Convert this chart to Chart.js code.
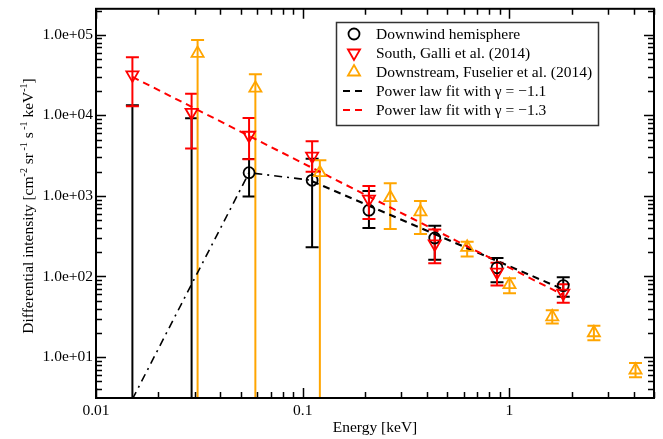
<!DOCTYPE html>
<html lang="en">
<head>
  <meta charset="UTF-8">
  <title>Differential intensity vs energy</title>
  <script src="https://cdn.jsdelivr.net/npm/chart.js@4.4.1/dist/chart.umd.min.js"></script>
  <style>
    body { margin: 0; background: #fff; }
    canvas { display: block; }
  </style>
</head>
<body>
  <canvas id="spectrum" width="663" height="439"></canvas>
  <script>
    // DATA
    // Downwind hemisphere (black circles) - first two points sit below the axis
    const downEnergy = [0.015, 0.029, 0.055, 0.111, 0.209, 0.435, 0.87, 1.82];
    const downValue  = [1, 1, 1940, 1560, 665, 300, 128, 77];
    const downLow    = [1, 1, 980, 230, 400, 161, 85, 56];
    const downHigh   = [13300, 9200, 2860, 2900, 1150, 427, 170, 98];

    // South, Galli et al. (2014)
    const southEnergy = [0.015, 0.029, 0.055, 0.111, 0.209, 0.435, 0.87, 1.82];
    const southValue  = [31800, 10900, 5660, 3120, 910, 254, 113, 62];
    const southLow    = [13000, 3880, 2840, 2000, 515, 146, 77, 47];
    const southHigh   = [52500, 18500, 9270, 4780, 1330, 384, 148, 80];

    // Downstream, Fuselier et al. (2014)
    const fuseEnergy = [0.031, 0.059, 0.121, 0.265, 0.371, 0.624, 1.0, 1.61, 2.56, 4.07];
    const fuseValue  = [58800, 21700, 1940, 953, 634, 230, 79, 31.5, 20, 6.9];
    const fuseLow    = [1, 1, 1, 388, 336, 177, 62, 26, 16.2, 5.6];
    const fuseHigh   = [86000, 32400, 2760, 1440, 866, 270, 95, 38, 24.4, 8.4];

    // fit lines and the dash-dot curve
    const fitBlackEnergy = [0.111, 1.82];
    const fitBlackValue  = [1520, 69];
    const fitRedEnergy   = [0.015, 1.82];
    const fitRedValue    = [30000, 59];
    const curveEnergy    = [0.015, 0.055, 0.111];
    const curveValue     = [3.0, 1940, 1560];

    // axes
    const xTickValues = [0.01, 0.1, 1];
    const xTickLabels = ["0.01", "0.1", "1"];
    const yTickValues = [10, 100, 1000, 10000, 100000];
    const yTickLabels = ["1.0e+01", "1.0e+02", "1.0e+03", "1.0e+04", "1.0e+05"];
    const xTitle = "Energy [keV]";
    const legendLabels = [
      "Downwind hemisphere",
      "South, Galli et al. (2014)",
      "Downstream, Fuselier et al. (2014)",
      "Power law fit with \u03b3 = \u22121.1",
      "Power law fit with \u03b3 = \u22121.3"
    ];

    const FONT = "15.5px 'Liberation Serif', 'Times New Roman', serif";
    const SUPFONT = "10px 'Liberation Serif', 'Times New Roman', serif";
    const RED = "#ff0000", ORANGE = "#ffa500", BLACK = "#000000";

    const pts = (xs, ys) => xs.map((x, i) => ({ x: x, y: ys[i] }));

    // error bars, frame, inward ticks, legend and titles
    const decor = {
      id: "decor",
      beforeDatasetsDraw(chart) {
        const ctx = chart.ctx, a = chart.chartArea;
        const xs = chart.scales.x, ys = chart.scales.y;
        ctx.save();
        ctx.beginPath();
        ctx.rect(a.left, a.top, a.right - a.left, a.bottom - a.top);
        ctx.clip();
        const bars = [
          [downEnergy, downLow, downHigh, BLACK],
          [southEnergy, southLow, southHigh, RED],
          [fuseEnergy, fuseLow, fuseHigh, ORANGE]
        ];
        ctx.lineWidth = 2;
        bars.forEach(([ex, lo, hi, col]) => {
          ctx.strokeStyle = col;
          ex.forEach((e, i) => {
            const px = xs.getPixelForValue(e);
            const p1 = ys.getPixelForValue(lo[i]);
            const p2 = ys.getPixelForValue(hi[i]);
            ctx.beginPath();
            ctx.moveTo(px, p1); ctx.lineTo(px, p2);
            ctx.moveTo(px - 6.5, p1); ctx.lineTo(px + 6.5, p1);
            ctx.moveTo(px - 6.5, p2); ctx.lineTo(px + 6.5, p2);
            ctx.stroke();
          });
        });
        ctx.restore();
      },
      afterDraw(chart) {
        const ctx = chart.ctx, a = chart.chartArea;
        const xs = chart.scales.x, ys = chart.scales.y;
        ctx.save();
        ctx.strokeStyle = BLACK;

        // ticks pointing into the plot, on all four sides
        ctx.lineWidth = 1.5;
        for (let d = -2; d <= 0; d++) {
          for (let m = 1; m <= 9; m++) {
            const v = m * Math.pow(10, d);
            if (v < xs.min || v > xs.max) continue;
            const px = Math.round(xs.getPixelForValue(v)) + 0.5;
            const len = m === 1 ? 10 : 6;
            ctx.beginPath();
            ctx.moveTo(px, a.bottom); ctx.lineTo(px, a.bottom - len);
            ctx.moveTo(px, a.top); ctx.lineTo(px, a.top + len);
            ctx.stroke();
          }
        }
        for (let d = 0; d <= 5; d++) {
          for (let m = 1; m <= 9; m++) {
            const v = m * Math.pow(10, d);
            if (v < ys.min || v > ys.max) continue;
            const py = Math.round(ys.getPixelForValue(v)) + 0.5;
            const len = m === 1 ? 10 : 6;
            ctx.beginPath();
            ctx.moveTo(a.left, py); ctx.lineTo(a.left + len, py);
            ctx.moveTo(a.right, py); ctx.lineTo(a.right - len, py);
            ctx.stroke();
          }
        }

        // frame
        ctx.lineWidth = 2;
        ctx.strokeRect(a.left, a.top, a.right - a.left, a.bottom - a.top);

        // legend
        ctx.lineWidth = 1.5;
        ctx.strokeStyle = "#333333";
        ctx.strokeRect(336.5, 22.5, 262, 103);
        const rows = [34, 53, 72, 91, 110];
        ctx.font = FONT;
        ctx.fillStyle = BLACK;
        ctx.textBaseline = "middle";
        ctx.textAlign = "left";
        legendLabels.forEach((lab, i) => ctx.fillText(lab, 376, rows[i] + 1));
        const H = Chart.helpers;
        ctx.fillStyle = "rgba(0,0,0,0)";
        ctx.lineWidth = 1.8;
        ctx.strokeStyle = BLACK;
        H.drawPoint(ctx, { pointStyle: "circle", radius: 5.5, borderWidth: 1.8, rotation: 0 }, 354, rows[0]);
        ctx.strokeStyle = RED;
        H.drawPoint(ctx, { pointStyle: "triangle", radius: 7, borderWidth: 1.8, rotation: 180 }, 354, rows[1]);
        ctx.strokeStyle = ORANGE;
        H.drawPoint(ctx, { pointStyle: "triangle", radius: 7, borderWidth: 1.8, rotation: 0 }, 354, rows[2]);
        [[BLACK, rows[3]], [RED, rows[4]]].forEach(([col, y]) => {
          ctx.strokeStyle = col;
          ctx.lineWidth = 2;
          ctx.setLineDash([7, 5]);
          ctx.beginPath();
          ctx.moveTo(343, y); ctx.lineTo(366, y);
          ctx.stroke();
        });
        ctx.setLineDash([]);

        // x title
        ctx.fillStyle = BLACK;
        ctx.font = FONT;
        ctx.textAlign = "center";
        ctx.textBaseline = "alphabetic";
        ctx.fillText(xTitle, (a.left + a.right) / 2, 432);

        // y title with superscripts
        const parts = [
          ["Differential intensity [cm", false], ["-2", true], [" sr", false], [" -1", true],
          [" s", false], [" -1", true], [" keV", false], ["-1", true], ["]", false]
        ];
        let total = 0;
        parts.forEach(([t, sup]) => { ctx.font = sup ? SUPFONT : FONT; total += ctx.measureText(t).width; });
        ctx.translate(33, 206);
        ctx.rotate(-Math.PI / 2);
        ctx.textAlign = "left";
        let x = -total / 2;
        parts.forEach(([t, sup]) => {
          ctx.font = sup ? SUPFONT : FONT;
          ctx.fillText(t, x, sup ? -6 : 0);
          x += ctx.measureText(t).width;
        });
        ctx.restore();
      }
    };

    new Chart("spectrum", {
      type: "scatter",
      data: {
        datasets: [
          {
            data: pts(fuseEnergy, fuseValue), order: 1,
            pointStyle: "triangle", pointRadius: 7, pointRotation: 0,
            borderColor: ORANGE, backgroundColor: "rgba(0,0,0,0)", borderWidth: 1.8
          },
          {
            data: pts(southEnergy, southValue), order: 2,
            pointStyle: "triangle", pointRadius: 7, pointRotation: 180,
            borderColor: RED, backgroundColor: "rgba(0,0,0,0)", borderWidth: 1.8
          },
          {
            data: pts(downEnergy, downValue), order: 3,
            pointStyle: "circle", pointRadius: 5.5,
            borderColor: BLACK, backgroundColor: "rgba(0,0,0,0)", borderWidth: 1.8
          },
          {
            data: pts(fitRedEnergy, fitRedValue), order: 4, showLine: true, pointRadius: 0,
            borderColor: RED, borderWidth: 2, borderDash: [7, 5]
          },
          {
            data: pts(fitBlackEnergy, fitBlackValue), order: 5, showLine: true, pointRadius: 0,
            borderColor: BLACK, borderWidth: 2, borderDash: [7, 5]
          },
          {
            data: pts(curveEnergy, curveValue), order: 6, showLine: true, pointRadius: 0,
            borderColor: BLACK, borderWidth: 1.6, borderDash: [8, 5, 2, 5]
          }
        ]
      },
      options: {
        responsive: false,
        animation: false,
        events: [],
        layout: { padding: { top: 7, right: 9, left: 0, bottom: 0 } },
        plugins: { legend: { display: false }, tooltip: { enabled: false } },
        scales: {
          x: {
            type: "logarithmic", min: 0.01, max: 5,
            grid: { display: false, drawTicks: false }, border: { display: false },
            afterBuildTicks: s => { s.ticks = xTickValues.map(v => ({ value: v })); },
            afterFit: s => { s.height = 41; s.paddingLeft = 0; s.paddingRight = 0; },
            ticks: {
              padding: 4, color: BLACK, maxRotation: 0, autoSkip: false,
              font: { family: "'Liberation Serif', serif", size: 15.5 },
              callback: (v) => xTickLabels[xTickValues.indexOf(v)]
            }
          },
          y: {
            type: "logarithmic", min: 3.1, max: 210000,
            grid: { display: false, drawTicks: false }, border: { display: false },
            afterBuildTicks: s => { s.ticks = yTickValues.map(v => ({ value: v })); },
            afterFit: s => { s.width = 96; s.paddingTop = 0; s.paddingBottom = 0; },
            ticks: {
              padding: 3, color: BLACK, autoSkip: false,
              font: { family: "'Liberation Serif', serif", size: 15.5 },
              callback: (v) => yTickLabels[yTickValues.indexOf(v)]
            }
          }
        }
      },
      plugins: [decor]
    });
  </script>
</body>
</html>
